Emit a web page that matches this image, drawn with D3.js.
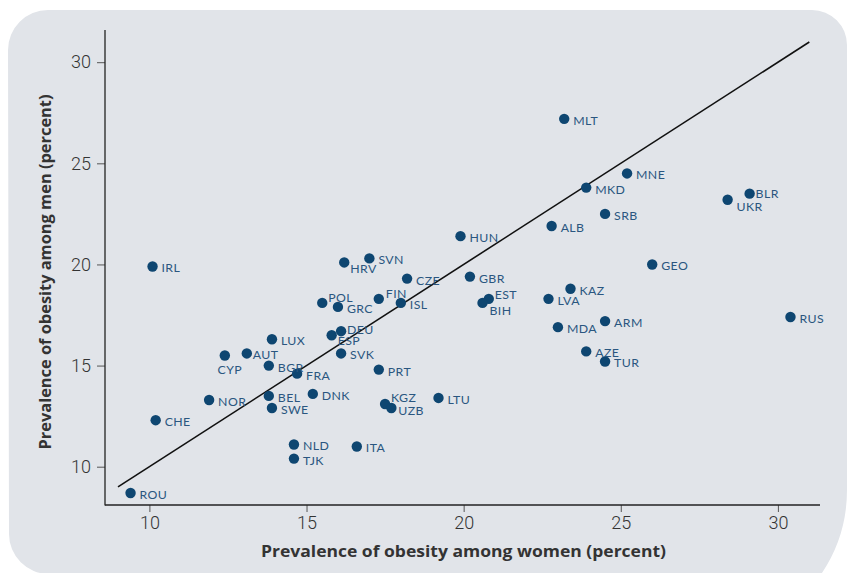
<!DOCTYPE html>
<html>
<head>
<meta charset="utf-8">
<script src="https://cdn.jsdelivr.net/npm/d3@7/dist/d3.min.js"></script>
<style>
  html, body { margin: 0; padding: 0; background: #ffffff; }
  svg { display: block; }
</style>
</head>
<body>
<svg id="chart" width="847" height="573"></svg>
<script>
// ---- Data ----
const countries = ["IRL","LUX","CYP","AUT","BGR","FRA","NOR","BEL","SWE","DNK","CHE","POL","GRC","ESP","DEU","SVK","PRT","KGZ","UZB","LTU","NLD","TJK","ITA","HUN","SVN","HRV","CZE","GBR","FIN","ISL","EST","BIH","MLT","MNE","MKD","BLR","UKR","SRB","ALB","GEO","KAZ","LVA","MDA","ARM","AZE","TUR","RUS","ROU"];
const women = [10.1,13.9,12.4,13.1,13.8,14.7,11.9,13.8,13.9,15.2,10.2,15.5,16.0,15.8,16.1,16.1,17.3,17.5,17.7,19.2,14.6,14.6,16.6,19.9,17.0,16.2,18.2,20.2,17.3,18.0,20.8,20.6,23.2,25.2,23.9,29.1,28.4,24.5,22.8,26.0,23.4,22.7,23.0,24.5,23.9,24.5,30.4,9.4];
const men   = [19.9,16.3,15.5,15.6,15.0,14.6,13.3,13.5,12.9,13.6,12.3,18.1,17.9,16.5,16.7,15.6,14.8,13.1,12.9,13.4,11.1,10.4,11.0,21.4,20.3,20.1,19.3,19.4,18.3,18.1,18.3,18.1,27.2,24.5,23.8,23.5,23.2,22.5,21.9,20.0,18.8,18.3,16.9,17.2,15.7,15.2,17.4,8.7];
const xTicks = [10, 15, 20, 25, 30];
const yTicks = [10, 15, 20, 25, 30];
const refLine = [9, 31]; // line of equality (men = women)
const xTitle = "Prevalence of obesity among women (percent)";
const yTitle = "Prevalence of obesity among men (percent)";

// label placement tweaks (dx, dy, anchor) – layout only
const labelPos = {
  CYP: [5, 14, "middle"], AUT: [6, 1.5], POL: [6, -5], FIN: [7, -5], HRV: [6, 6],
  EST: [6, -4], BIH: [7, 8], DEU: [6, -2], ESP: [6, 5], KGZ: [6, -6.5],
  UZB: [7, 3], BLR: [6, 0], UKR: [9, 7], GRC: [9, 1.5]
};

// ---- Layout ----
const svg = d3.select("#chart");

// panel background
svg.append("path")
  .attr("d", "M8,50 A40,40 0 0 1 48,10 L812,10 A35,35 0 0 1 847,45 L847,490 A150,150 0 0 1 821.3,574 L49,574 A40,40 0 0 1 9,534 Z")
  .attr("fill", "#e1e4e9");

const x = d3.scaleLinear().domain([10, 30]).range([149.4, 777.9]);
const y = d3.scaleLinear().domain([10, 30]).range([466.7, 62.2]);

const axisColor = "#222";

// X axis
const xAxisG = svg.append("g").attr("transform", "translate(0,505)");
xAxisG.call(d3.axisBottom(x).tickValues(xTicks).tickSize(7).tickPadding(4).tickFormat(d3.format("d")));
xAxisG.select(".domain").remove();
xAxisG.append("line").attr("x1", 105).attr("x2", 820).attr("y1", 0).attr("y2", 0)
  .attr("stroke", axisColor).attr("stroke-width", 1.3);
xAxisG.selectAll(".tick line").attr("stroke", "#555").attr("stroke-width", 1);
xAxisG.selectAll(".tick text")
  .attr("font-family", "Roboto, 'Liberation Sans', sans-serif")
  .attr("font-weight", 300)
  .attr("font-size", 18)
  .attr("fill", "#333");

// Y axis
const yAxisG = svg.append("g").attr("transform", "translate(105,0)");
yAxisG.call(d3.axisLeft(y).tickValues(yTicks).tickSize(8).tickPadding(6).tickFormat(d3.format("d")));
yAxisG.select(".domain").remove();
yAxisG.append("line").attr("x1", 0).attr("x2", 0).attr("y1", 30).attr("y2", 505.6)
  .attr("stroke", axisColor).attr("stroke-width", 1.3);
yAxisG.selectAll(".tick line").attr("stroke", "#555").attr("stroke-width", 1);
yAxisG.selectAll(".tick text")
  .attr("font-family", "Roboto, 'Liberation Sans', sans-serif")
  .attr("font-weight", 300)
  .attr("font-size", 18)
  .attr("fill", "#333");

// Axis titles
svg.append("text")
  .attr("x", 463.5).attr("y", 557)
  .attr("text-anchor", "middle")
  .attr("font-family", "'Open Sans', Lato, sans-serif")
  .attr("font-weight", 700)
  .attr("font-size", 16)
  .attr("textLength", 405)
  .attr("lengthAdjust", "spacingAndGlyphs")
  .attr("fill", "#333")
  .text(xTitle);

svg.append("text")
  .attr("transform", "translate(51,272) rotate(-90)")
  .attr("text-anchor", "middle")
  .attr("font-family", "'Open Sans', Lato, sans-serif")
  .attr("font-weight", 700)
  .attr("font-size", 16)
  .attr("textLength", 355)
  .attr("lengthAdjust", "spacingAndGlyphs")
  .attr("fill", "#333")
  .text(yTitle);

// Reference line (men = women)
svg.append("line")
  .attr("x1", x(refLine[0])).attr("y1", y(refLine[0]))
  .attr("x2", x(refLine[1])).attr("y2", y(refLine[1]))
  .attr("stroke", "#111").attr("stroke-width", 1.6);

// Points
const data = countries.map((c, i) => ({ c, w: women[i], m: men[i] }));
svg.append("g").selectAll("circle").data(data).join("circle")
  .attr("cx", d => x(d.w)).attr("cy", d => y(d.m)).attr("r", 5.2)
  .attr("fill", "#0e4671");

// Labels
svg.append("g").selectAll("text").data(data).join("text")
  .attr("x", d => x(d.w) + (labelPos[d.c] ? labelPos[d.c][0] : 9))
  .attr("y", d => y(d.m) + (labelPos[d.c] ? labelPos[d.c][1] : 1.5))
  .attr("dy", "0.36em")
  .attr("text-anchor", d => (labelPos[d.c] && labelPos[d.c][2]) || "start")
  .attr("font-family", "Lato, 'Open Sans', sans-serif")
  .attr("font-size", 12.3)
  .attr("letter-spacing", 0.4)
  .attr("fill", "#2a5680")
  .text(d => d.c);
</script>
</body>
</html>
